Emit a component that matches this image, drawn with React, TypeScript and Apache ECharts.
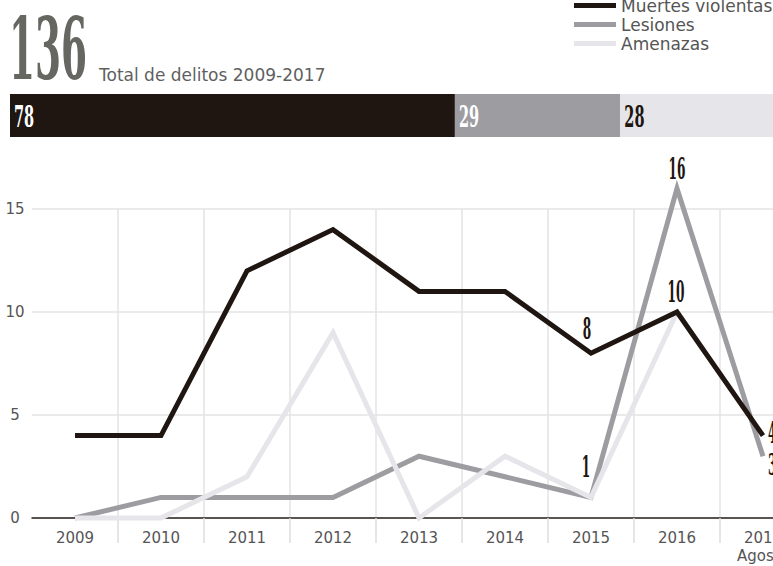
import React, { useEffect, useRef } from "react";
import * as echarts from "echarts";

// ---- data ----
const years = ["2009", "2010", "2011", "2012", "2013", "2014", "2015", "2016", "2017\nAgosto"];
const muertes = [4, 4, 12, 14, 11, 11, 8, 10, 4];
const lesiones = [0, 1, 1, 1, 3, 2, 1, 16, 3];
const amenazas: (number | null)[] = [0, 0, 2, 9, 0, 3, 1, 10, null];
const seriesNames = ["Muertes violentas", "Lesiones", "Amenazas"];
const totals = [78, 29, 28];
const grandTotal = "136";
const titleText = "Total de delitos 2009-2017";
const labeledIdx = [6, 7, 8];

// ---- styles ----
const COLORS = ["#1f1511", "#9d9ca0", "#e6e6ea"];
const LABEL_FONT = "DejaVu Serif";
const TEXT_FONT = "DejaVu Sans";
const labelOffsets: Record<string, [number, number]> = {
  "0-6": [-4, -25],
  "0-7": [-1, -20],
  "0-8": [5, -3],
  "1-6": [-5, -31],
  "1-7": [0, -20],
  "1-8": [5, 8],
};

export default function App() {
  const ref = useRef<HTMLDivElement>(null);
  useEffect(() => {
    if (!ref.current) return;
    const chart = echarts.init(ref.current, null, { renderer: "svg" });
    const sumTotals = totals.reduce((a, b) => a + b, 0);
    const starts: number[] = [];
    totals.reduce((acc, v) => {
      starts.push(acc);
      return acc + v;
    }, 0);

    const lineLabelData: number[][] = [];
    [muertes, lesiones].forEach((arr, s) => {
      labeledIdx.forEach((i) => {
        lineLabelData.push([i, arr[i], s]);
      });
    });

    const lineSeries = (name: string, data: (number | null)[], color: string) => ({
      name,
      type: "line",
      xAxisIndex: 0,
      yAxisIndex: 0,
      data,
      symbol: "none",
      clip: false,
      connectNulls: false,
      itemStyle: { color },
      lineStyle: { color, width: 5, join: "miter" },
      emphasis: { disabled: true },
    });

    const option: any = {
      animation: false,
      legend: {
        orient: "vertical",
        left: 569,
        top: -8,
        itemWidth: 42,
        itemHeight: 5,
        itemGap: 2,
        icon: "rect",
        data: seriesNames,
        textStyle: { fontSize: 17, color: "#555", fontFamily: TEXT_FONT },
      },
      graphic: [
        {
          type: "text",
          x: 9,
          y: 49.5,
          scaleX: 0.435,
          style: {
            text: grandTotal,
            fontSize: 86,
            fontWeight: "bold",
            fontFamily: LABEL_FONT,
            fill: "#676762",
            align: "left",
            verticalAlign: "middle",
          },
        },
        {
          type: "text",
          x: 99,
          y: 75,
          style: {
            text: titleText,
            fontSize: 17,
            fontFamily: TEXT_FONT,
            fill: "#5f5f5f",
            align: "left",
            verticalAlign: "middle",
          },
        },
      ],
      grid: [
        { left: 32, top: 209, width: 774, height: 309 },
        { left: 10, top: 94, width: 770, height: 43 },
      ],
      xAxis: [
        {
          gridIndex: 0,
          type: "category",
          data: years,
          boundaryGap: true,
          axisLine: { show: true, lineStyle: { color: "#2a2220", width: 1.5 } },
          axisTick: {
            show: true,
            length: 25,
            interval: (i: number) => i !== 0,
            lineStyle: { color: "#dddddd", width: 1.5 },
          },
          splitLine: {
            show: true,
            interval: (i: number) => i !== 0,
            lineStyle: { color: "#e3e3e3", width: 1.5 },
          },
          axisLabel: {
            color: "#555",
            fontSize: 15,
            lineHeight: 18,
            margin: 11,
            fontFamily: TEXT_FONT,
          },
        },
        { gridIndex: 1, type: "value", min: 0, max: sumTotals, show: false },
      ],
      yAxis: [
        {
          gridIndex: 0,
          type: "value",
          min: 0,
          max: 15,
          interval: 5,
          axisLine: { show: false },
          axisTick: { show: false },
          splitLine: { show: true, lineStyle: { color: "#e3e3e3", width: 1.5 } },
          axisLabel: {
            color: "#555",
            fontSize: 15,
            align: "center",
            margin: 17,
            fontFamily: TEXT_FONT,
          },
        },
        { gridIndex: 1, type: "category", data: ["total"], show: false },
      ],
      series: [
        lineSeries(seriesNames[1], lesiones, COLORS[1]),
        lineSeries(seriesNames[2], amenazas, COLORS[2]),
        lineSeries(seriesNames[0], muertes, COLORS[0]),
        ...totals.map((v, i) => ({
          type: "bar",
          name: "bar" + i,
          xAxisIndex: 1,
          yAxisIndex: 1,
          stack: "tot",
          barWidth: 43,
          data: [v],
          itemStyle: { color: COLORS[i] },
          emphasis: { disabled: true },
        })),
        {
          type: "custom",
          name: "barLabels",
          xAxisIndex: 1,
          yAxisIndex: 1,
          z: 20,
          clip: false,
          data: totals.map((v, i) => [starts[i], 0, v, i]),
          encode: { x: 0, y: 1 },
          renderItem: (params: any, api: any) => {
            const pt = api.coord([api.value(0), 0]);
            const idx = api.value(3);
            return {
              type: "text",
              x: pt[0] + 4,
              y: pt[1] + 1,
              scaleX: 0.5,
              z2: 100,
              style: {
                text: String(api.value(2)),
                fontSize: 29,
                fontWeight: "bold",
                fontFamily: LABEL_FONT,
                fill: idx === 2 ? COLORS[0] : "#ffffff",
                align: "left",
                verticalAlign: "middle",
              },
            };
          },
        },
        {
          type: "custom",
          name: "lineLabels",
          xAxisIndex: 0,
          yAxisIndex: 0,
          clip: false,
          z: 10,
          data: lineLabelData,
          encode: { x: 0, y: 1 },
          renderItem: (params: any, api: any) => {
            const i = api.value(0);
            const s = api.value(2);
            const pt = api.coord([i, api.value(1)]);
            const off = labelOffsets[s + "-" + i] || [0, -20];
            const isLast = i === years.length - 1;
            return {
              type: "text",
              x: pt[0] + off[0],
              y: pt[1] + off[1],
              scaleX: 0.42,
              style: {
                text: String(api.value(1)),
                fontSize: 29,
                fontWeight: "bold",
                fontFamily: LABEL_FONT,
                fill: COLORS[0],
                align: isLast ? "left" : "center",
                verticalAlign: "middle",
              },
            };
          },
        },
      ],
    };
    chart.setOption(option);
    return () => chart.dispose();
  }, []);

  return (
    <div
      style={{
        position: "absolute",
        left: 0,
        top: 0,
        width: 773,
        height: 566,
        overflow: "hidden",
        background: "#fff",
      }}
    >
      <div ref={ref} style={{ width: 830, height: 566 }} />
    </div>
  );
}
